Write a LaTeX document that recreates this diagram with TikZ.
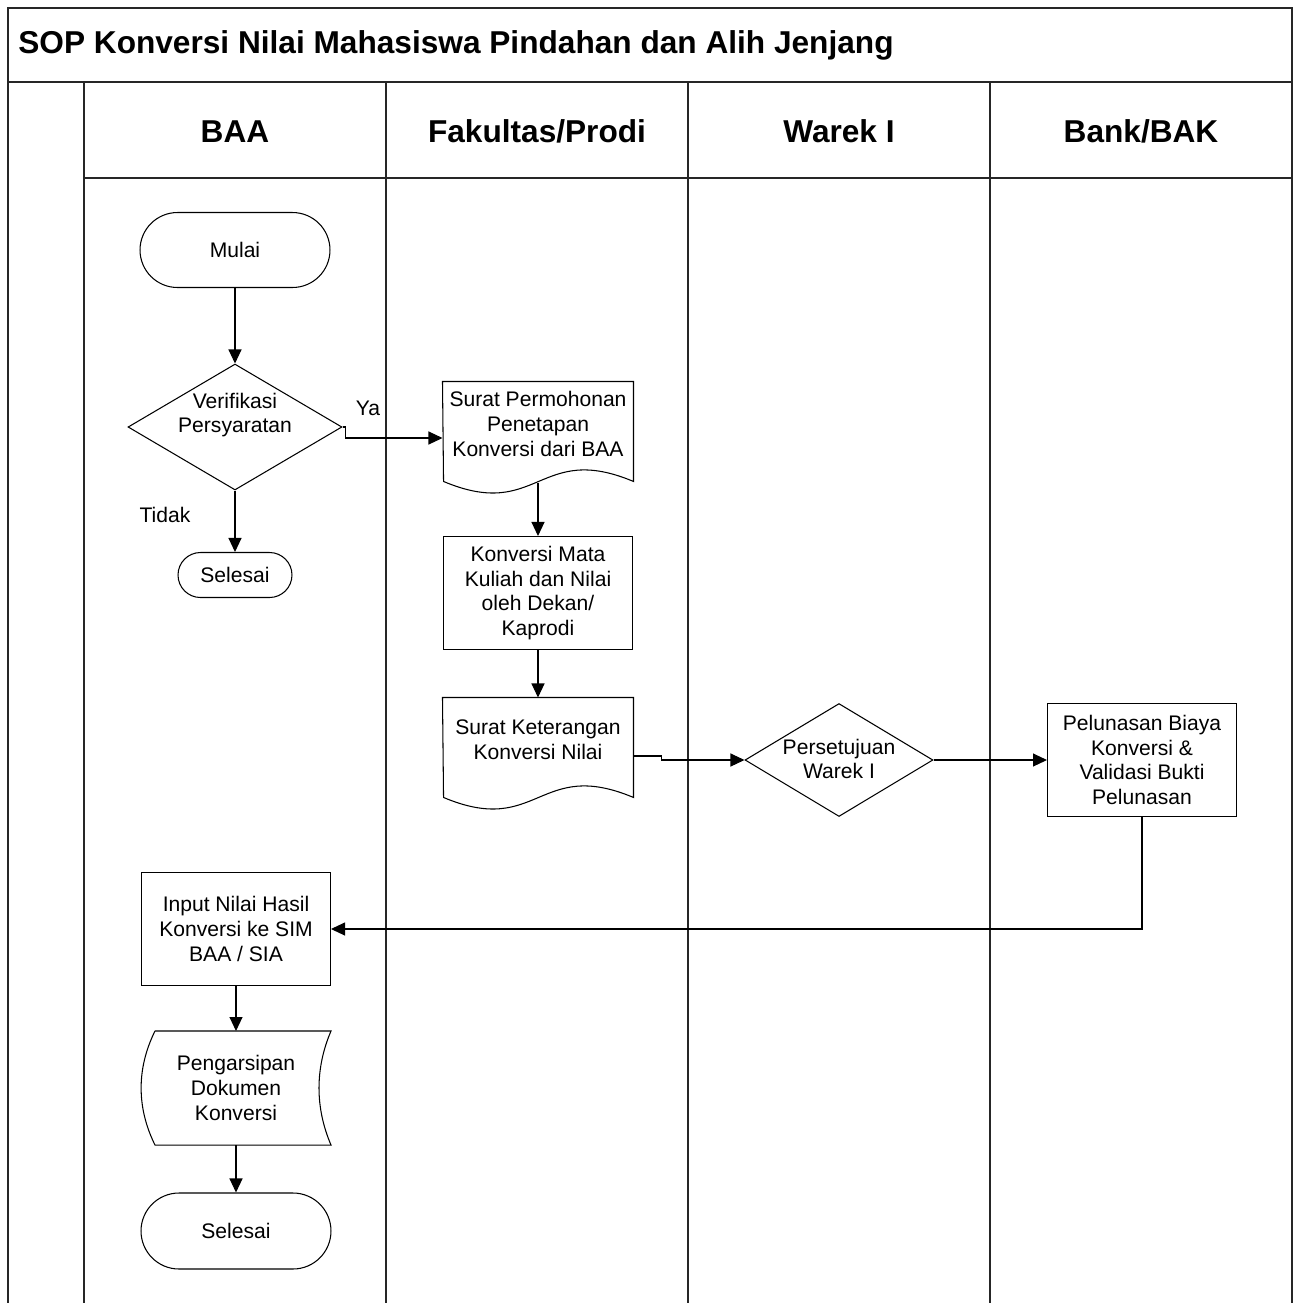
\documentclass[tikz,border=0pt]{standalone}
\usepackage{fontspec}
\setmainfont{Liberation Sans}
\usetikzlibrary{shapes.geometric,arrows.meta}
\begin{document}
\begin{tikzpicture}[x=0.02cm,y=-0.02cm,line width=0.6pt,
  every node/.style={font=\fontsize{12}{14}\selectfont,align=center},
  lane/.style={font=\fontsize{18}{22}\selectfont\bfseries,anchor=base},
  frame/.style={line width=0.8pt,black!85},
  terminal/.style={draw,rectangle,rounded corners=0.75cm,minimum width=3.8cm,minimum height=1.5cm},
  process/.style={draw,rectangle,minimum width=3.78cm,minimum height=2.26cm,inner sep=2pt},
  decision/.style={draw,diamond,inner sep=0pt},
  docbox/.style={rectangle,minimum width=3.8cm,minimum height=1.68cm,inner sep=0pt},
  arr/.style={-{Triangle[length=0.28cm,width=0.26cm]}}]
\useasboundingbox (0,0) rectangle (1293,1303);
% swimlane frame
\draw[frame] (8,1303) -- (8,8) -- (1292,8) -- (1292,1303);
\draw[frame] (8,82) -- (1292,82);
\draw[frame] (84,178) -- (1292,178);
\foreach \x in {84,386,688,990} \draw[frame] (\x,82) -- (\x,1303);
\node[anchor=west,font=\fontsize{18}{22}\selectfont\bfseries] (judul) at (12,45) {SOP Konversi Nilai Mahasiswa Pindahan dan Alih Jenjang};
\node[lane] (baa) at (235,142) {BAA};
\node[lane] (fak) at (537,142) {Fakultas/Prodi};
\node[lane] (warek) at (839,142) {Warek I};
\node[lane] (bank) at (1141,142) {Bank/BAK};
% BAA
\node[terminal] (mulai) at (235,250) {Mulai};
\node[decision,minimum width=4.28cm,minimum height=2.52cm] (verif) at (235,427) {};
\node (verifteks) at (235,415) {Verifikasi\\Persyaratan};
\node[terminal,minimum width=2.28cm,minimum height=0.9cm,rounded corners=0.45cm] (selesai1) at (235,575) {Selesai};
\node (tidak) at (165,515) {Tidak};
\node (ya) at (368,408) {Ya};
% Fakultas/Prodi
\node[docbox] (spp) at (538,424) {Surat Permohonan\\Penetapan\\Konversi dari BAA};
\draw (spp.north west) -- (spp.north east) -- ++(0,-2cm)
  .. controls +(-1.9cm,0.8cm) and +(1.9cm,-0.8cm) .. ++(-3.8cm,0) -- cycle;
\node[process] (konv) at (538,593) {Konversi Mata\\Kuliah dan Nilai\\oleh Dekan/\\Kaprodi};
\node[docbox] (sk) at (538,740) {Surat Keterangan\\Konversi Nilai};
\draw (sk.north west) -- (sk.north east) -- ++(0,-2cm)
  .. controls +(-1.9cm,0.8cm) and +(1.9cm,-0.8cm) .. ++(-3.8cm,0) -- cycle;
% Warek I
\node[decision,minimum width=3.76cm,minimum height=2.26cm] (setuju) at (839,760) {};
\node (setujuteks) at (839,759) {Persetujuan\\Warek I};
% Bank/BAK
\node[process] (lunas) at (1142,760) {Pelunasan Biaya\\Konversi \&\\Validasi Bukti\\Pelunasan};
% BAA again
\node[process] (input) at (236,929) {Input Nilai Hasil\\Konversi ke SIM\\BAA / SIA};
\node[rectangle,minimum width=3.78cm,minimum height=2.26cm,inner sep=0pt] (arsip) at (236,1088) {Pengarsipan\\Dokumen\\Konversi};
\draw ([xshift=0.28cm]arsip.north west) -- (arsip.north east)
  .. controls +(-0.32cm,-0.75cm) and +(-0.32cm,0.75cm) .. (arsip.south east)
  -- ([xshift=0.28cm]arsip.south west)
  .. controls +(-0.37cm,0.75cm) and +(-0.37cm,-0.75cm) .. ([xshift=0.28cm]arsip.north west);
\node[terminal,minimum height=1.52cm,rounded corners=0.76cm] (selesai2) at (236,1231) {Selesai};
% connectors
\draw[arr] (mulai) -- (verif);
\draw[arr] (verif.east) -- ++(0.06cm,0) |- ([yshift=-0.28cm]spp.west);
\draw[arr] (verif) -- (selesai1);
\draw[arr] ([yshift=-0.32cm]spp.south) -- (konv.north);
\draw[arr] (konv) -- (sk);
\draw[arr] ([yshift=-0.32cm]sk.east) -- ++(0.56cm,0) |- (setuju.west);
\draw[arr] (setuju) -- (lunas);
\draw[arr] (lunas.south) |- (input.east);
\draw[arr] (input) -- (arsip);
\draw[arr] (arsip) -- (selesai2);
\end{tikzpicture}
\end{document}
